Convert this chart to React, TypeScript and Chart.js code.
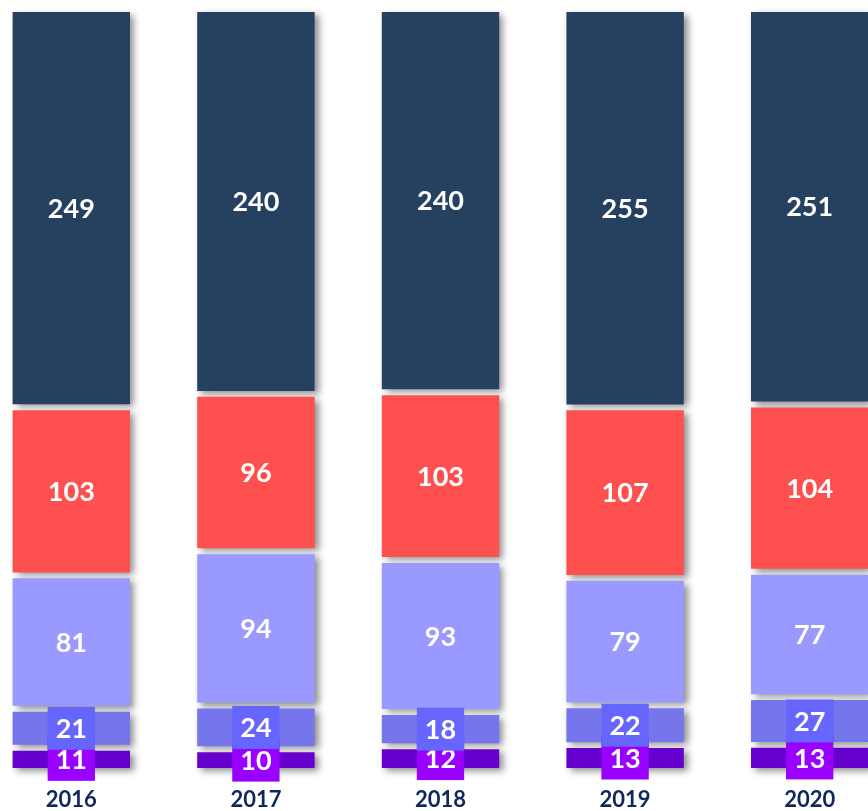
import React, { useEffect, useRef } from "react";
import { Chart, registerables } from "chart.js";

Chart.register(...registerables);

const categories = ["2016", "2017", "2018", "2019", "2020"];
const series1 = [11, 10, 12, 13, 13];
const series2 = [21, 24, 18, 22, 27];
const series3 = [81, 94, 93, 79, 77];
const series4 = [103, 96, 103, 107, 104];
const series5 = [249, 240, 240, 255, 251];

const seriesList = [series1, series2, series3, series4, series5];
const seriesNames = ["Series 1", "Series 2", "Series 3", "Series 4", "Series 5"];
const barColors = ["#6600CC", "#7575EC", "#9999FF", "#FF5050", "#26405F"];
const labelBoxColors: (string | null)[] = ["#9900FF", "#6666FF", null, null, null];

const GAP = 0.8; // visual gap between stacked segments (percent units)
const FONT = "Lato, 'Open Sans', sans-serif";

function buildDatasets() {
  const totals = categories.map((_, j) => seriesList.reduce((s, arr) => s + arr[j], 0));
  const cum = categories.map(() => 0);
  return seriesList.map((arr, i) => {
    const data = arr.map((v, j) => {
      const start = (cum[j] / totals[j]) * 100 + i * GAP;
      const end = start + (v / totals[j]) * 100;
      cum[j] += v;
      return [start, end] as [number, number];
    });
    return {
      label: seriesNames[i],
      data,
      backgroundColor: barColors[i],
      borderWidth: 0,
      borderSkipped: false,
      clip: false as any,
      categoryPercentage: 1,
      barPercentage: 0.636,
      grouped: false,
    };
  });
}

const shadowAndLabels = {
  id: "shadowAndLabels",
  beforeDatasetsDraw(chart: any) {
    const ctx = chart.ctx;
    ctx.save();
    ctx.shadowColor = "rgba(0,0,0,0.45)";
    ctx.shadowBlur = 7;
    ctx.shadowOffsetX = 4;
    ctx.shadowOffsetY = 3;
  },
  afterDatasetsDraw(chart: any) {
    const ctx = chart.ctx;
    ctx.restore();
    ctx.save();
    ctx.font = `bold 27px ${FONT}`;
    ctx.textAlign = "center";
    ctx.textBaseline = "middle";
    chart.data.datasets.forEach((ds: any, i: number) => {
      const meta = chart.getDatasetMeta(i);
      meta.data.forEach((el: any, j: number) => {
        const value = seriesList[i][j];
        const text = String(value);
        const cx = el.x;
        const cy = (el.y + el.base) / 2;
        const box = labelBoxColors[i];
        if (box) {
          const w = ctx.measureText(text).width + 16;
          const h = 43;
          ctx.fillStyle = box;
          ctx.fillRect(cx - w / 2, cy - h / 2, w, h);
        }
        ctx.fillStyle = "#FFFFFF";
        ctx.fillText(text, cx, cy + 1);
      });
    });
    ctx.restore();
  },
};

export default function App() {
  const ref = useRef<HTMLCanvasElement | null>(null);
  useEffect(() => {
    if (!ref.current) return;
    const chart = new Chart(ref.current, {
      type: "bar",
      data: { labels: categories, datasets: buildDatasets() as any },
      options: {
        responsive: false,
        animation: false,
        maintainAspectRatio: false,
        layout: { padding: { top: 12, left: 0, right: 0, bottom: 0 } },
        plugins: { legend: { display: false }, tooltip: { enabled: false } },
        scales: {
          x: {
            stacked: false,
            offset: true,
            grid: { display: false, drawTicks: false },
            border: { display: false },
            ticks: {
              padding: 18.8,
              color: "#10275C",
              font: { family: FONT, size: 22, weight: "bold" },
            },
          },
          y: {
            display: false,
            min: 0,
            max: 100 + 4 * GAP,
          },
        },
      },
      plugins: [shadowAndLabels],
    });
    return () => chart.destroy();
  }, []);

  return (
    <div
      style={{
        position: "fixed",
        left: 0,
        top: 0,
        width: 868,
        height: 811,
        overflow: "hidden",
        background: "#FFFFFF",
      }}
    >
      <canvas
        ref={ref}
        width={923}
        height={832}
        style={{ position: "absolute", left: -21, top: 0, width: 923, height: 832 }}
      />
    </div>
  );
}
